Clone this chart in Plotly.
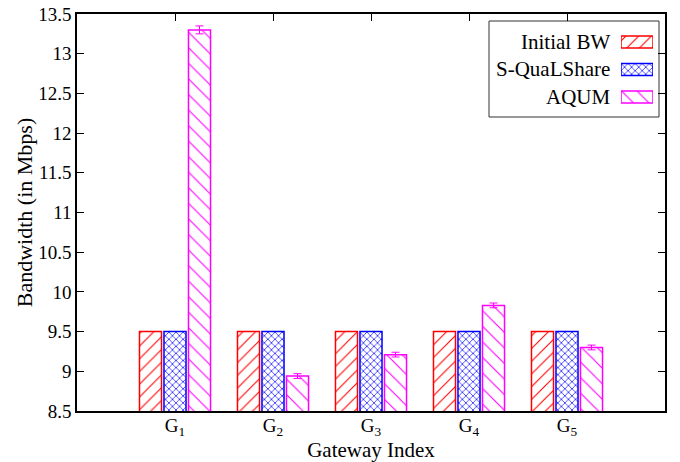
import plotly.graph_objects as go

categories = ["G<sub>1</sub>", "G<sub>2</sub>", "G<sub>3</sub>", "G<sub>4</sub>", "G<sub>5</sub>"]
initial_bw = [9.5, 9.5, 9.5, 9.5, 9.5]
squalshare = [9.5, 9.5, 9.5, 9.5, 9.5]
aqum = [13.30, 8.94, 9.21, 9.83, 9.30]
aqum_err = [0.05, 0.03, 0.03, 0.03, 0.03]
series_names = ["Initial BW", "S-QuaLShare", "AQUM"]
y_ticks = [8.5, 9, 9.5, 10, 10.5, 11, 11.5, 12, 12.5, 13, 13.5]
y_ticktext = ["8.5", "9", "9.5", "10", "10.5", "11", "11.5", "12", "12.5", "13", "13.5"]

colors = ["#ff0000", "#0000ff", "#ff00ff"]
patterns = [dict(shape="/", size=9, solidity=0.12),
            dict(shape="x", size=5, solidity=0.25),
            dict(shape="\\", size=11, solidity=0.1)]

FONT = "Liberation Serif"
W, H = 680, 462
ML, MR, MT, MB = 77, 15, 14, 51
PW, PH = W - ML - MR, H - MT - MB


def px_x(p):
    return (p - ML) / PW


def px_y(p):
    return (H - MB - p) / PH


fig = go.Figure()
values = [initial_bw, squalshare, aqum]
for i, (name, vals) in enumerate(zip(series_names, values)):
    kw = {}
    if name == "AQUM":
        kw["error_y"] = dict(type="data", array=aqum_err, color=colors[i], thickness=1, width=4)
    fig.add_trace(go.Bar(
        x=categories, y=vals, name=name, showlegend=False,
        marker=dict(color="white", line=dict(color=colors[i], width=1.5),
                    pattern=dict(fgcolor=colors[i], bgcolor="white", fillmode="replace", **patterns[i])),
        xaxis="x", yaxis="y", **kw))

# legend swatches in an inset axis
for i, name in enumerate(series_names):
    fig.add_trace(go.Bar(
        y=[i], x=[1], base=[0], orientation="h", width=0.44, showlegend=False,
        marker=dict(color="white", line=dict(color=colors[i], width=1.5),
                    pattern=dict(fgcolor=colors[i], bgcolor="white", fillmode="replace", **patterns[i])),
        xaxis="x2", yaxis="y2", hoverinfo="skip"))
    fig.add_annotation(x=px_x(612), xref="paper", y=i, yref="y2", text=name,
                       xanchor="right", yanchor="middle", showarrow=False,
                       font=dict(family=FONT, size=21, color="black"))

fig.add_shape(type="rect", xref="paper", yref="paper",
              x0=px_x(489), x1=px_x(659), y0=px_y(117), y1=px_y(21),
              line=dict(color="#333333", width=1), fillcolor="white", layer="below")

tickfont = dict(family=FONT, size=19, color="black")

fig.update_layout(
    width=W, height=H,
    margin=dict(l=ML, r=MR, t=MT, b=MB, autoexpand=False),
    paper_bgcolor="white", plot_bgcolor="white",
    barmode="group", bargap=0.25, bargroupgap=0.1,
    font=dict(family=FONT, size=19, color="black"),
    xaxis=dict(range=[-1, 5], type="category", automargin=False,
               showline=True, linecolor="black", linewidth=1.5, mirror=True,
               ticks="", showgrid=False, zeroline=False, tickfont=tickfont,
               ticklabelstandoff=-4,
               title=dict(text="Gateway Index", font=dict(family=FONT, size=21), standoff=0)),
    xaxis3=dict(range=[-1, 5], overlaying="x", side="top", anchor="y",
                tickvals=[0, 1, 2, 3, 4], ticks="inside", ticklen=7, tickcolor="black", tickwidth=1,
                showticklabels=False, showline=False, showgrid=False, zeroline=False, fixedrange=True),
    yaxis=dict(range=[8.5, 13.5], tickvals=y_ticks, ticktext=y_ticktext, automargin=False,
               showline=True, linecolor="black", linewidth=1.5, mirror="ticks",
               ticks="inside", ticklen=7, tickcolor="black", tickwidth=1,
               showgrid=False, zeroline=False, tickfont=tickfont,
               title=dict(text="Bandwidth (in Mbps)", font=dict(family=FONT, size=22), standoff=0)),
    xaxis2=dict(domain=[px_x(621), px_x(653)], range=[0, 1], visible=False, anchor="y2", fixedrange=True),
    yaxis2=dict(domain=[px_y(110.75), px_y(28.25)], range=[2.5, -0.5], visible=False, anchor="x2", fixedrange=True),
)

# invisible helper trace so the top tick axis is drawn
fig.add_trace(go.Scatter(x=[0], y=[8.5], xaxis="x3", yaxis="y", mode="markers",
                         marker=dict(opacity=0), showlegend=False, hoverinfo="skip"))

fig.write_html("out.html")
